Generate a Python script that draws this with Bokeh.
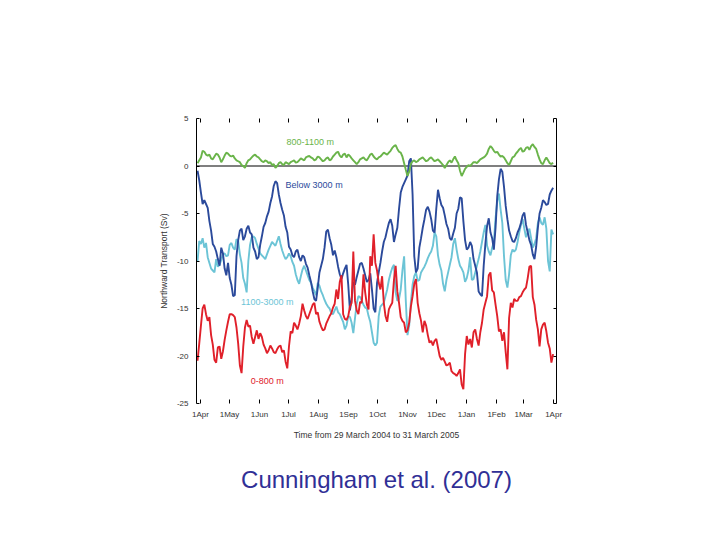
import pandas as pd
from bokeh.plotting import figure
from bokeh.models import (Range1d, LinearAxis, FixedTicker, Label, ColumnDataSource, Title)
from bokeh.embed import file_html
from bokeh.resources import INLINE

# ---- data (Sv) ----
# "*_main" values fall every 3.5 days from 29 March 2004,
# "*_mid" values fall half-way between consecutive main values.
start_date = "2004-03-29"

green_main = [0.3, 0.9, 1.5, 1.1, 0.8, 1.0, 1.2, 0.4, 1.1, 1.3, 1.0, 0.8, 0.5, 0.1, -0.2, 0.6,
              0.9, 1.2, 0.9, 0.5, 0.6, 0.3, 0.1, -0.2, 0.3, 0.2, 0.4, 0.2, 0.5, 0.35, 0.6, 0.7,
              0.9, 1.05, 0.8, 0.7, 0.9, 0.5, 0.8, 0.6, 1.0, 1.4, 1.1, 1.2, 0.9, 1.05, 0.6, 0.2,
              0.7, 0.9, 0.6, 1.2, 1.0, 0.7, 1.0, 1.4, 1.2, 1.6, 2.1, 1.8, 1.4, 0.3, -1.05, 0.2,
              0.6, 0.5, 0.8, 0.7, 0.6, 0.9, 0.5, 0.7, 0.3, -0.2, 0.4, 0.35, 1.0, 0.3, -1.05, -0.3,
              0.1, 0.2, 0.4, 0.5, 0.8, 1.05, 1.8, 1.9, 1.4, 1.2, 1.05, 0.6, 0.1, 0.9, 1.3, 1.75,
              1.5, 1.9, 1.7, 2.3, 1.8, 0.7, 0.2, 0.9, 0.3, 0.35]
green_mid = [0.6, 1.6, 1.2, 1.2, 0.7, 1.3, 0.9, 0.7, 1.4, 1.1,
             1.1, 0.6, 0.4, 0.0, 0.3, 0.7, 1.1, 1.0, 0.7, 0.4,
             0.5, 0.4, 0.2, 0.0, 0.4, 0.1, 0.3, 0.4, 0.6, 0.4,
             0.8, 0.6, 1.0, 0.9, 0.6, 1.0, 0.7, 0.6, 0.9, 0.7,
             1.2, 1.5, 0.9, 1.3, 1.2, 0.8, 0.4, 0.4, 0.8, 0.7,
             0.9, 1.3, 0.8, 0.9, 1.2, 1.3, 1.4, 1.9, 2.2, 1.5,
             1.0, -0.4, -0.6, 0.5, 0.4, 0.7, 0.9, 0.5, 0.8, 0.7,
             0.6, 0.5, 0.1, 0.1, 0.6, 0.7, 0.6, -0.5, -0.7, -0.1,
             0.0, 0.4, 0.3, 0.7, 0.9, 1.3, 2.1, 1.6, 1.5, 1.0,
             0.9, 0.3, 0.5, 1.0, 1.5, 1.9, 1.6, 2.0, 2.1, 2.0,
             1.2, 0.3, 0.6, 0.6, 0.2]

blue_main = [-0.5, -2.8, -3.6, -4.4, -6.8, -8.5, -9.8, -8.6, -10.8, -10.2, -12.5, -13.6, -7.8,
             -6.6, -7.4, -6.3, -7.2, -9.0, -9.6, -7.4, -6.0, -4.8, -3.2, -1.6, -3.0, -4.6,
             -6.4, -8.5, -9.4, -9.0, -9.6, -9.4, -10.3, -11.5, -13.2, -14.2, -11.2, -9.8,
             -6.9, -7.6, -9.4, -9.6, -11.4, -11.3, -10.4, -15.2, -12.2, -11.7, -10.3, -10.8,
             -12.2, -11.3, -15.0, -12.3, -10.2, -8.0, -6.7, -5.6, -8.0, -6.5, -2.8, -1.8,
             -1.0, 0.8, -9.5, -10.8, -7.6, -5.6, -4.3, -5.6, -7.0, -2.5, -4.1, -5.2, -6.6,
             -7.8, -6.5, -4.5, -3.4, -7.8, -8.6, -8.4, -10.5, -13.2, -13.7, -8.2, -5.5, -7.6,
             -6.5, -1.4, -0.6, -4.2, -6.8, -7.9, -7.6, -6.6, -5.2, -6.2, -7.8, -9.3, -8.5,
             -5.0, -3.6, -4.1, -3.0, -2.3]
blue_mid = [-1.5, -4.0, -4.0, -5.8, -8.2, -9.0, -10.5, -9.2, -11.5, -11.8,
            -13.7, -9.5, -6.8, -7.8, -6.6, -7.0, -8.6, -9.8, -8.3, -6.4,
            -5.3, -3.9, -2.1, -1.8, -3.9, -5.2, -7.0, -8.8, -9.6, -8.8,
            -10.0, -9.6, -10.7, -12.2, -14.0, -12.8, -10.5, -8.6, -6.7, -8.3,
            -8.9, -10.6, -11.9, -10.8, -12.5, -14.0, -12.5, -11.0, -10.2, -11.5,
            -12.0, -13.0, -15.4, -11.2, -9.0, -7.5, -6.0, -6.3, -7.2, -4.5,
            -2.2, -1.4, 0.5, -3.0, -11.2, -8.6, -6.5, -4.6, -4.8, -6.8,
            -4.5, -3.4, -4.4, -6.1, -7.6, -7.1, -5.0, -3.3, -5.8, -8.8,
            -8.0, -9.8, -11.2, -13.5, -10.5, -6.3, -7.0, -8.8, -3.2, -0.3,
            -2.2, -5.6, -7.4, -8.0, -7.0, -6.0, -4.9, -7.0, -8.3, -9.8,
            -6.5, -4.4, -3.8, -4.0, -2.6]

cyan_main = [-10.0, -8.2, -8.6, -9.6, -10.8, -11.2, -10.6, -9.9, -9.2, -9.4, -8.1, -8.8, -7.9,
             -10.2, -12.4, -10.0, -7.5, -7.6, -8.7, -9.4, -9.8, -8.8, -8.0, -8.4, -7.4, -8.9,
             -9.8, -9.2, -10.1, -11.4, -12.4, -10.9, -11.0, -12.0, -12.8, -13.6, -12.6, -13.6,
             -14.5, -15.0, -15.6, -14.8, -15.6, -16.4, -16.8, -15.9, -17.6, -14.5, -13.8,
             -14.6, -15.0, -16.4, -18.6, -18.6, -14.8, -14.4, -13.0, -11.3, -10.4, -14.2,
             -13.0, -9.5, -17.8, -14.3, -11.6, -12.1, -11.2, -10.6, -9.7, -9.0, -7.0, -9.4,
             -11.0, -13.2, -11.2, -9.6, -7.6, -9.8, -10.8, -12.2, -11.0, -12.0, -11.2, -9.8,
             -8.0, -6.2, -9.0, -8.6, -5.5, -2.9, -6.0, -12.0, -11.4, -8.8, -8.8, -7.0, -5.6,
             -7.5, -6.6, -8.6, -7.6, -5.4, -6.2, -6.6, -11.1, -7.2]
cyan_mid = [-7.9, -7.6, -8.1, -10.2, -11.0, -9.8, -10.4, -9.3, -9.5, -8.3,
            -8.6, -7.7, -9.3, -11.8, -13.3, -8.3, -7.4, -8.2, -9.2, -9.6,
            -9.3, -8.4, -8.2, -7.9, -8.2, -9.4, -9.6, -9.5, -10.5, -12.0,
            -11.6, -10.5, -11.5, -12.3, -13.2, -12.3, -13.2, -14.1, -14.8, -15.5,
            -15.2, -15.4, -16.0, -17.2, -15.8, -16.5, -16.0, -13.7, -14.2, -14.9,
            -15.8, -17.5, -18.9, -15.8, -14.6, -13.7, -12.0, -10.7, -13.3, -14.0,
            -11.0, -14.2, -16.8, -12.5, -11.2, -12.0, -10.9, -10.2, -9.3, -8.4,
            -7.4, -10.4, -12.4, -12.0, -10.4, -8.2, -8.8, -10.5, -11.2, -11.8,
            -9.6, -11.9, -10.5, -9.0, -7.0, -8.4, -9.4, -8.0, -3.7, -4.6,
            -9.5, -12.8, -9.4, -9.0, -8.0, -6.2, -6.6, -7.0, -7.6, -8.2,
            -6.0, -6.0, -5.4, -10.0, -6.7]

red_main = [-20.5, -16.8, -14.6, -16.3, -17.8, -20.4, -19.1, -20.3, -18.3, -16.4, -15.6, -15.9,
            -18.7, -21.8, -17.0, -16.9, -18.0, -18.0, -18.2, -18.0, -19.2, -19.4, -19.2, -19.7,
            -19.0, -19.6, -20.6, -19.0, -17.6, -16.8, -16.6, -14.5, -15.8, -15.6, -14.6, -15.6,
            -16.4, -17.3, -16.6, -15.8, -14.9, -13.0, -12.2, -15.6, -16.2, -14.8, -9.0, -15.2,
            -14.3, -11.4, -14.6, -9.5, -7.2, -11.0, -13.0, -14.4, -16.4, -14.7, -12.0, -13.2,
            -15.9, -16.5, -17.3, -14.8, -12.4, -14.4, -16.3, -16.3, -17.8, -18.4, -18.4, -19.1,
            -20.4, -20.6, -20.9, -21.6, -21.9, -21.8, -23.0, -19.8, -18.8, -19.1, -17.2, -18.9,
            -16.5, -14.4, -11.5, -13.1, -14.6, -17.4, -18.4, -19.6, -16.0, -14.9, -14.2, -13.8,
            -13.3, -12.8, -10.6, -13.8, -16.2, -19.0, -16.7, -17.4, -19.2, -19.8]
red_mid = [-18.7, -15.0, -15.6, -15.9, -18.8, -20.7, -19.0, -19.5, -17.3, -15.6,
           -15.7, -17.0, -21.0, -19.0, -16.2, -16.8, -18.7, -17.3, -17.6, -18.8,
           -19.7, -18.9, -19.6, -19.3, -18.9, -19.4, -21.3, -17.4, -16.5, -17.2,
           -15.8, -15.2, -16.1, -15.1, -14.4, -15.4, -16.9, -17.2, -16.2, -15.5,
           -14.5, -14.0, -11.5, -16.1, -15.8, -14.4, -14.2, -15.6, -14.4, -13.3,
           -15.1, -10.5, -10.2, -12.3, -11.6, -15.8, -15.1, -14.4, -10.5, -14.4,
           -16.3, -17.5, -16.5, -13.7, -11.9, -15.5, -17.5, -16.8, -18.6, -18.9,
           -18.2, -20.0, -20.2, -21.0, -20.7, -21.8, -22.1, -21.4, -23.5, -17.9,
           -18.2, -17.5, -18.2, -17.5, -15.1, -13.7, -11.2, -13.3, -15.8, -17.2,
           -17.5, -21.4, -14.4, -14.0, -14.2, -13.7, -13.0, -11.8, -10.5, -14.6,
           -17.2, -17.2, -16.5, -18.6, -20.7]

month_ticks = ["2004-04-01", "2004-05-01", "2004-06-01", "2004-07-01", "2004-08-01",
               "2004-09-01", "2004-10-01", "2004-11-01", "2004-12-01", "2005-01-01",
               "2005-02-01", "2005-03-01", "2005-04-01"]
month_labels = ["1Apr", "1May", "1Jun", "1Jul", "1Aug", "1Sep", "1Oct", "1Nov", "1Dec",
                "1Jan", "1Feb", "1Mar", "1Apr"]
y_ticks = [5, 0, -5, -10, -15, -20, -25]

series_names = ["800-1100 m", "Below 3000 m", "1100-3000 m", "0-800 m"]
caption = "Cunningham et al. (2007)"


def ms(t):
    return pd.Timestamp(t).value / 1e6


def merge(main, mid):
    out = []
    for a, b in zip(main, mid):
        out += [a, b]
    out.append(main[-1])
    return out


green = merge(green_main, green_mid)
blue = merge(blue_main, blue_mid)
cyan = merge(cyan_main, cyan_mid)
red = merge(red_main, red_mid)

dates = pd.date_range(start_date, periods=len(green), freq="42h")
xs = [ts.value / 1e6 for ts in dates]

src = ColumnDataSource(dict(x=xs, green=green, blue=blue, cyan=cyan, red=red))

GREEN = "#6ab44a"
BLUE = "#2b4a9b"
CYAN = "#6cc4d6"
RED = "#e0202a"
TXT = "#333333"
FONT = "Liberation Sans"

p = figure(frame_width=360, frame_height=285,
           min_border_left=196, min_border_right=150,
           min_border_top=118, min_border_bottom=118,
           x_range=Range1d(ms("2004-03-27 22:00"), ms("2005-04-04")),
           y_range=Range1d(-25, 5),
           x_axis_type=None, y_axis_type=None,
           output_backend="svg", toolbar_location=None,
           background_fill_color="white", border_fill_color="white")
p.outline_line_color = None
p.grid.visible = False

x_tick_vals = [ms(t) for t in month_ticks]
x_overrides = {v: lab for v, lab in zip(x_tick_vals, month_labels)}
y_overrides = {v: str(v) for v in y_ticks}


def style_axis(ax, show_labels, show_line):
    ax.major_tick_in = 4
    ax.major_tick_out = 0
    ax.minor_tick_line_color = None
    ax.major_tick_line_color = "black"
    ax.major_tick_line_width = 1
    ax.axis_line_color = "black" if show_line else None
    ax.axis_line_width = 1
    ax.major_label_text_font = FONT
    ax.major_label_text_font_size = "8px"
    ax.major_label_text_color = TXT if show_labels else None
    ax.axis_label_text_font = FONT
    ax.axis_label_text_font_size = "8.5px"
    ax.axis_label_text_font_style = "normal"
    ax.axis_label_text_color = TXT


xb = LinearAxis(ticker=FixedTicker(ticks=x_tick_vals), major_label_overrides=x_overrides,
                axis_label="Time from 29 March 2004 to 31 March 2005")
style_axis(xb, True, False)
xb.major_label_standoff = 6
xb.axis_label_standoff = 8
p.add_layout(xb, "below")

xt = LinearAxis(ticker=FixedTicker(ticks=x_tick_vals), major_label_overrides=x_overrides)
style_axis(xt, False, False)
xt.major_label_text_font_size = "1px"
p.add_layout(xt, "above")

yl = LinearAxis(ticker=FixedTicker(ticks=y_ticks), major_label_overrides=y_overrides,
                axis_label="Northward Transport (Sv)")
style_axis(yl, True, True)
yl.major_tick_in = 3
yl.major_label_standoff = 8
yl.axis_label_standoff = 5
p.add_layout(yl, "left")

yr = LinearAxis(ticker=FixedTicker(ticks=y_ticks), major_label_overrides=y_overrides)
style_axis(yr, False, True)
yr.major_tick_in = 3
yr.major_label_text_font_size = "1px"
p.add_layout(yr, "right")

cap = Title(text=caption, align="center", text_font=FONT, text_font_size="24px",
            text_font_style="normal", text_color="#302f96", standoff=42)
p.add_layout(cap, "below")

# zero line
p.line(x=[ms("2004-03-27 22:00"), ms("2005-04-04")], y=[0, 0], line_color="black", line_width=1.2)

p.line("x", "cyan", source=src, line_color=CYAN, line_width=1.9)
p.line("x", "blue", source=src, line_color=BLUE, line_width=1.9)
p.line("x", "red", source=src, line_color=RED, line_width=1.9)
p.line("x", "green", source=src, line_color=GREEN, line_width=1.9)

label_dates = ["2004-06-29", "2004-06-28", "2004-05-13", "2004-05-23"]
label_vals = [2.5, -2.0, -14.3, -22.6]
label_colors = [GREEN, BLUE, CYAN, RED]
for name, d, v, c in zip(series_names, label_dates, label_vals, label_colors):
    p.add_layout(Label(x=ms(d), y=v, text=name, text_color=c, text_font=FONT,
                       text_font_size="9px", text_align="left", text_baseline="middle"))

open("out.html", "w").write(file_html(p, INLINE))
